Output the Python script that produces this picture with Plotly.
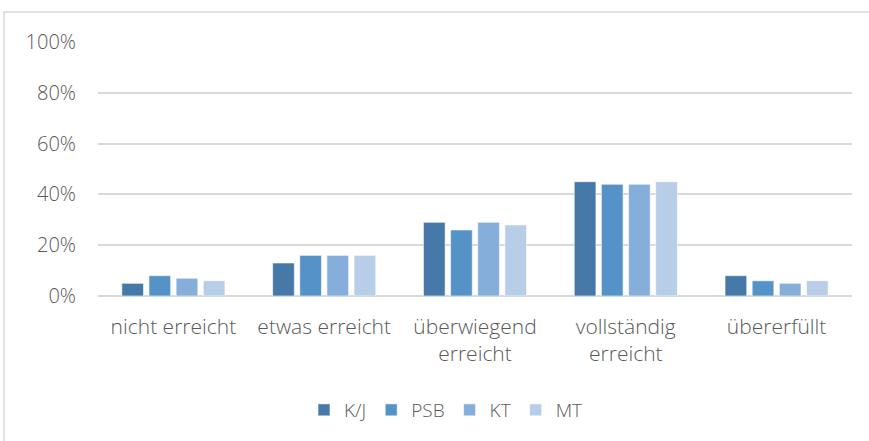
import plotly.graph_objects as go

categories = ["nicht erreicht", "etwas erreicht", "überwiegend<br>erreicht", "vollständig<br>erreicht", "übererfüllt"]
series_names = ["K/J", "PSB", "KT", "MT"]
kj = [0.05, 0.13, 0.29, 0.45, 0.08]
psb = [0.08, 0.16, 0.26, 0.44, 0.06]
kt = [0.07, 0.16, 0.29, 0.44, 0.05]
mt = [0.06, 0.16, 0.28, 0.45, 0.06]
colors = ["#4679A8", "#5592C8", "#85AEDB", "#B8CDE8"]

fig = go.Figure()
for name, vals, col in zip(series_names, [kj, psb, kt, mt], colors):
    fig.add_trace(go.Bar(x=categories, y=vals, name=name,
                         marker=dict(color=col, line=dict(color="rgba(255,255,255,0.6)", width=1))))

W, H = 869, 441
ml, mr, mt_, mb = 98, 17, 42, 145
pw, ph = W - ml - mr, H - mt_ - mb

def px_x(p):
    return (p - ml) / pw

def px_y(p):
    return (H - mb - p) / ph

txt = "#595959"
fig.update_layout(
    width=W, height=H,
    margin=dict(l=ml, r=mr, t=mt_, b=mb),
    paper_bgcolor="white", plot_bgcolor="white",
    font=dict(family="Open Sans, Noto Sans, sans-serif", color=txt, weight=300),
    barmode="group", bargap=0.28, bargroupgap=0.2,
    showlegend=True,
    legend=dict(orientation="h", x=px_x(446), xanchor="center", y=px_y(410), yanchor="middle",
                font=dict(size=19, color=txt, weight=300), itemwidth=30, traceorder="normal"),
    xaxis=dict(showgrid=False, tickfont=dict(size=21, color=txt, weight=300), ticks="",
               showline=False, ticklabelstandoff=16),
    yaxis=dict(range=[0, 1], dtick=0.2, tickformat=".0%", showgrid=True,
               gridcolor="#D9D9D9", gridwidth=1.5, zeroline=True, zerolinecolor="#D9D9D9",
               zerolinewidth=1.5, tickfont=dict(size=20, color=txt, weight=300),
               ticklabelstandoff=21, showline=False),
    shapes=[dict(type="rect", xref="paper", yref="paper",
                 x0=px_x(4), x1=px_x(900), y0=px_y(470), y1=px_y(12),
                 line=dict(color="#D9D9D9", width=1.5), fillcolor="rgba(0,0,0,0)", layer="below")],
)

fig.write_html("out.html", config={"displayModeBar": False},
               post_script="document.body.style.margin='0';document.body.style.overflow='hidden';")
